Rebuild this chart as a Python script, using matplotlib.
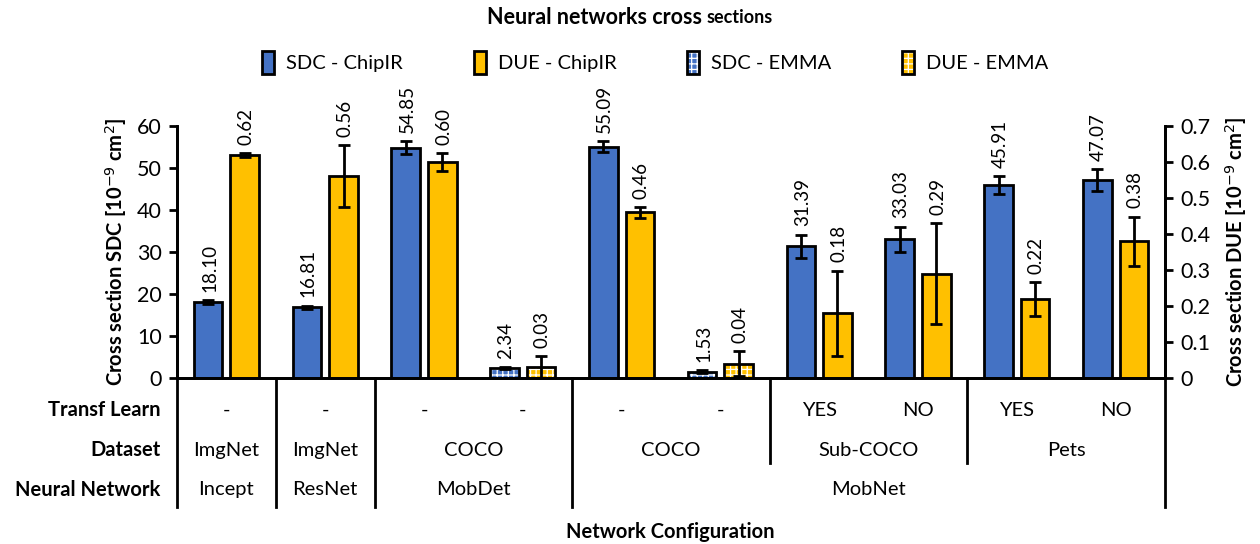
import numpy as np
import matplotlib
matplotlib.use("Agg")
import matplotlib.pyplot as plt
from matplotlib.patches import Patch

plt.rcParams['font.family'] = ['Lato', 'DejaVu Sans']
plt.rcParams['hatch.linewidth'] = 0.9

# one slot per measured configuration
sdc = [18.10, 16.81, 54.85, 2.34, 55.09, 1.53, 31.39, 33.03, 45.91, 47.07]
sdc_err = [0.5, 0.4, 1.6, 0.3, 1.3, 0.3, 2.7, 3.0, 2.1, 2.6]
due = [0.62, 0.56, 0.60, 0.03, 0.46, 0.04, 0.18, 0.29, 0.22, 0.38]
due_err = [0.005, 0.086, 0.025, 0.03, 0.015, 0.035, 0.118, 0.14, 0.047, 0.068]
facility = ["ChipIR", "ChipIR", "ChipIR", "EMMA", "ChipIR", "EMMA",
            "ChipIR", "ChipIR", "ChipIR", "ChipIR"]

transf = ["-", "-", "-", "-", "-", "-", "YES", "NO", "YES", "NO"]
datasets = [("ImgNet", 0, 0), ("ImgNet", 1, 1), ("COCO", 2, 3),
            ("COCO", 4, 5), ("Sub-COCO", 6, 7), ("Pets", 8, 9)]
networks = [("Incept", 0, 0), ("ResNet", 1, 1), ("MobDet", 2, 3), ("MobNet", 4, 9)]

blue = "#4472C4"
yellow = "#FFC000"
fs = 14.5

fig = plt.figure(figsize=(12.6, 5.44), dpi=100)
ax = fig.add_axes([0.1405, 0.3051, 0.7841, 0.4633])
ax2 = ax.twinx()

x = np.arange(len(sdc))
w = 0.29
off = 0.185
emma = np.array([f == "EMMA" for f in facility])

def draw(axis, xs, vals, errs, color, hatched, fmt):
    for xi, v, e, h in zip(xs, vals, errs, hatched):
        if h:
            axis.bar(xi, v, w, facecolor=color, edgecolor="white", hatch="+++", lw=0, zorder=2)
            axis.bar(xi, v, w, facecolor="none", edgecolor="black", lw=2, zorder=3)
        else:
            axis.bar(xi, v, w, facecolor=color, edgecolor="black", lw=2, zorder=2)
        axis.errorbar(xi, v, yerr=e, fmt="none", ecolor="black", elinewidth=2,
                      capsize=4, capthick=2, zorder=4)
        axis.annotate(fmt % v, (xi, v + e), xytext=(1, 6), textcoords="offset points",
                      rotation=90, ha="center", va="bottom", fontsize=13.5)

draw(ax, x - off, sdc, sdc_err, blue, emma, "%.2f")
draw(ax2, x + off, due, due_err, yellow, emma, "%.2f")

ax.set_xlim(-0.5, len(sdc) - 0.5)
ax.set_ylim(0, 60)
ax2.set_ylim(0, 0.7)
ax.set_yticks(np.arange(0, 61, 10))
ax2.set_yticks(np.arange(0, 0.71, 0.1))
ax2.set_yticklabels(["0"] + ["%.1f" % t for t in np.arange(0.1, 0.71, 0.1)])
ax.set_xticks([])

for a in (ax, ax2):
    a.spines["top"].set_visible(False)
    for s in ("left", "right", "bottom"):
        a.spines[s].set_linewidth(2)
    a.tick_params(axis="y", direction="out", length=6, width=2, labelsize=15.5, pad=5)

ax.set_ylabel("Cross section SDC [10$^{-9}$ cm$^{2}$]", fontsize=fs, fontweight="bold", labelpad=6)
ax2.set_ylabel("Cross section DUE [10$^{-9}$ cm$^{2}$]", fontsize=fs, fontweight="bold", labelpad=9)

# table under the axis
tr = ax.get_xaxis_transform()
row_y = [-0.127, -0.286, -0.444]
for lab, yy in zip(["Transf Learn", "Dataset", "Neural Network"], row_y):
    ax.text(-0.017, yy, lab, transform=ax.transAxes, ha="right", va="center",
            fontsize=fs, fontweight="bold")
for xi, t in zip(x, transf):
    ax.text(xi, row_y[0], t, transform=tr, ha="center", va="center", fontsize=fs)
for name, a0, a1 in datasets:
    ax.text((a0 + a1) / 2, row_y[1], name, transform=tr, ha="center", va="center", fontsize=fs)
for name, a0, a1 in networks:
    ax.text((a0 + a1) / 2, row_y[2], name, transform=tr, ha="center", va="center", fontsize=fs)

for xb in [-0.5, 0.5, 1.5, 3.5, 9.5]:
    ax.plot([xb, xb], [0, -0.512], transform=tr, color="black", lw=2, clip_on=False)
for xb in [5.5, 7.5]:
    ax.plot([xb, xb], [0, -0.337], transform=tr, color="black", lw=2, clip_on=False)

fig.text(0.532, 0.022, "Network Configuration", ha="center", va="center",
         fontsize=fs, fontweight="bold")

# title: second word smaller, whole thing centred on the figure
t1 = fig.text(0.5, 0.967, "Neural networks cross ", ha="left", va="center",
              fontsize=15.5, fontweight="bold")
t2 = fig.text(0.5, 0.967, "sections", ha="left", va="center", fontsize=13, fontweight="bold")
r = fig.canvas.get_renderer()
w1 = t1.get_window_extent(r).width / fig.bbox.width
w2 = t2.get_window_extent(r).width / fig.bbox.width
x0 = 0.5 - (w1 + w2) / 2
t1.set_x(x0)
t2.set_x(x0 + w1)

def emma_handle(color):
    return (Patch(facecolor=color, edgecolor="white", hatch="+++", lw=0),
            Patch(facecolor="none", edgecolor="black", lw=2))

handles = [Patch(facecolor=blue, edgecolor="black", lw=2),
           Patch(facecolor=yellow, edgecolor="black", lw=2),
           emma_handle(blue), emma_handle(yellow)]
labels = ["SDC - ChipIR", "DUE - ChipIR", "SDC - EMMA", "DUE - EMMA"]
fig.legend(handles, labels, loc="center", bbox_to_anchor=(0.52, 0.885), ncol=4,
           frameon=False, fontsize=fs, handlelength=0.6, handleheight=1.4,
           columnspacing=3.5, handletextpad=0.6)

fig.savefig("out.png", dpi=100)
